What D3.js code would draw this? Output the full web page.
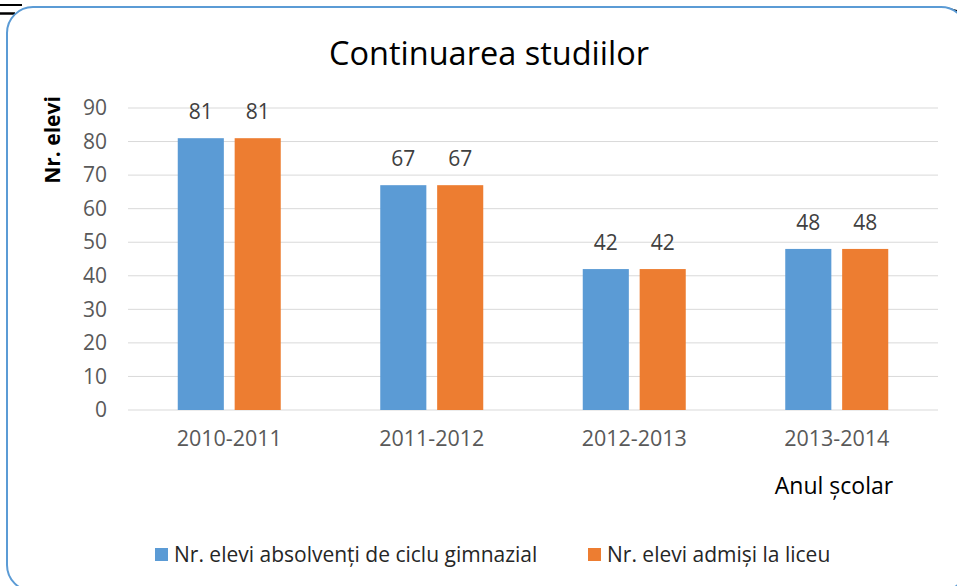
<!DOCTYPE html>
<html lang="ro">
<head>
<meta charset="utf-8">
<title>Continuarea studiilor</title>
<script src="https://d3js.org/d3.v7.min.js"></script>
<style>
  body { margin: 0; background: #fff; }
  svg { display: block; font-family: "Open Sans", "DejaVu Sans", sans-serif; }
</style>
</head>
<body>
<div id="chart"></div>
<script>
// data
var years = ["2010-2011", "2011-2012", "2012-2013", "2013-2014"];
var seriesNames = ["Nr. elevi absolvenți de ciclu gimnazial", "Nr. elevi admiși la liceu"];
var absolventi = [81, 67, 42, 48];
var admisi = [81, 67, 42, 48];
var yTicks = [0, 10, 20, 30, 40, 50, 60, 70, 80, 90];
var colors = ["#5b9bd5", "#ed7d31"];

var W = 957, H = 586;
var svg = d3.select("#chart").append("svg")
    .attr("width", W)
    .attr("height", H);

// the frame, cut off on the right and bottom as in the screenshot
svg.append("line").attr("x1", 0).attr("x2", 22).attr("y1", 5).attr("y2", 5)
    .attr("stroke", "#000").attr("stroke-width", 2);
svg.append("line").attr("x1", 0).attr("x2", 15).attr("y1", 13.5).attr("y2", 13.5)
    .attr("stroke", "#000").attr("stroke-width", 2.5);
svg.append("path").attr("d", "M946,7 L957,10 L957,14 Z").attr("fill", "#000");
svg.append("rect")
    .attr("x", 7).attr("y", 7)
    .attr("width", 960).attr("height", 584)
    .attr("rx", 26).attr("ry", 26)
    .attr("fill", "#fff")
    .attr("stroke", "#5b9bd5")
    .attr("stroke-width", 2);

var plot = { left: 128, right: 938, top: 108, bottom: 410 };

var x0 = d3.scaleBand().domain(years).range([plot.left, plot.right]).padding(0);
var groupW = 103;
var x1 = d3.scaleBand().domain([0, 1])
    .range([(x0.bandwidth() - groupW) / 2, (x0.bandwidth() + groupW) / 2])
    .paddingInner(0.19);
var y = d3.scaleLinear().domain([0, 90]).range([plot.bottom, plot.top]);

// gridlines
svg.append("g")
  .selectAll("line")
  .data(yTicks)
  .join("line")
    .attr("x1", plot.left).attr("x2", plot.right)
    .attr("y1", d => y(d)).attr("y2", d => y(d))
    .attr("stroke", "#d9d9d9")
    .attr("stroke-width", 1);

// y axis labels
var yAxis = d3.axisLeft(y).tickValues(yTicks).tickSize(0).tickPadding(0);
var gy = svg.append("g")
    .attr("transform", "translate(107,0)")
    .call(yAxis);
gy.select(".domain").remove();
gy.selectAll("text")
    .attr("fill", "#595959")
    .style("font-size", "21px")
    .style("font-family", "'Open Sans', sans-serif");

// x axis labels
var xAxis = d3.axisBottom(x0).tickSize(0).tickPadding(0);
var gx = svg.append("g")
    .attr("transform", "translate(0," + (plot.bottom + 21) + ")")
    .call(xAxis);
gx.select(".domain").remove();
gx.selectAll("text")
    .attr("fill", "#595959")
    .style("font-size", "21.5px")
    .style("font-family", "'Open Sans', sans-serif");

var rows = years.map((yr, i) => ({ year: yr, vals: [absolventi[i], admisi[i]] }));

var groups = svg.append("g")
  .selectAll("g")
  .data(rows)
  .join("g")
    .attr("transform", d => "translate(" + x0(d.year) + ",0)");

groups.selectAll("rect")
  .data(d => d.vals.map((v, k) => ({ k: k, v: v })))
  .join("rect")
    .attr("x", d => x1(d.k))
    .attr("width", x1.bandwidth())
    .attr("y", d => y(d.v))
    .attr("height", d => y(0) - y(d.v))
    .attr("fill", d => colors[d.k]);

groups.selectAll("text")
  .data(d => d.vals.map((v, k) => ({ k: k, v: v })))
  .join("text")
    .attr("x", d => x1(d.k) + x1.bandwidth() / 2)
    .attr("y", d => y(d.v) - 19)
    .attr("text-anchor", "middle")
    .attr("fill", "#404040")
    .style("font-size", "21px")
    .text(d => d.v);

// title
svg.append("text")
    .attr("x", 489).attr("y", 65)
    .attr("text-anchor", "middle")
    .attr("fill", "#000")
    .style("font-size", "32.5px")
    .text("Continuarea studiilor");

// axis titles
svg.append("text")
    .attr("transform", "translate(60,140) rotate(-90)")
    .attr("text-anchor", "middle")
    .attr("fill", "#000")
    .style("font-size", "21px")
    .style("font-weight", "bold")
    .text("Nr. elevi");

svg.append("text")
    .attr("x", 834).attr("y", 494)
    .attr("text-anchor", "middle")
    .attr("fill", "#000")
    .style("font-size", "23px")
    .text("Anul școlar");

// legend
var legendX = [155, 588];
var leg = svg.append("g")
  .selectAll("g")
  .data(seriesNames)
  .join("g")
    .attr("transform", (d, i) => "translate(" + legendX[i] + ",548)");
leg.append("rect")
    .attr("width", 13).attr("height", 13)
    .attr("fill", (d, i) => colors[i]);
leg.append("text")
    .attr("x", 19).attr("y", 14)
    .attr("fill", "#262626")
    .style("font-size", "21px")
    .text(d => d);
</script>
</body>
</html>
